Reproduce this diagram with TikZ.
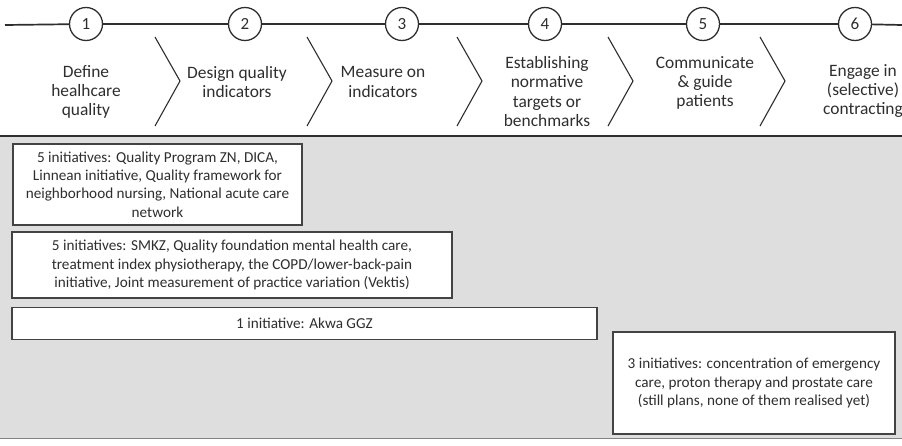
\documentclass[tikz,border=0pt]{standalone}
\usepackage{fontspec}
\setmainfont{Carlito}
\usetikzlibrary{positioning}
\definecolor{ink}{HTML}{2E2E2E}
\definecolor{panel}{HTML}{DEDEDE}
\begin{document}
\begin{tikzpicture}[x=1pt, y=-1pt, text=ink,
	num/.style={circle, draw=ink, line width=1.3pt, fill=white, minimum size=33pt, inner sep=0pt, font=\fontsize{17}{19}\selectfont},
	stage/.style={align=center, inner sep=0pt, font=\fontsize{17.4}{19.2}\selectfont},
	chev/.style={draw=ink, line width=1.1pt},
	initbox/.style={draw=ink!90, line width=1.2pt, fill=white, align=center, inner sep=0pt, font=\fontsize{15.2}{18.4}\selectfont}]
		\useasboundingbox (0,0) rectangle (902,445);
		% grey panel below the header
		\fill[panel] (0,137) rectangle (902,438);
		\draw[ink!60, line width=1pt] (0,438) -- (902,438);
		\draw[ink, line width=2.4pt] (0,136) -- (902,136);

		% numbered steps on the time line
		\coordinate (L) at (5,25);
		\coordinate (R) at (902,25);
		\node[num] (n1) at (86,24) {1};
		\node[num] (n2) at (245,24) {2};
		\node[num] (n3) at (402,24) {3};
		\node[num] (n4) at (545,24) {4};
		\node[num] (n5) at (703,24) {5};
		\node[num] (n6) at (855,24) {6};
		\draw[ink, line width=1.7pt] (L) -- (n1) -- (n2) -- (n3) -- (n4) -- (n5) -- (n6) -- (R);

		% chevrons between the stages
		\foreach \x in {155,307,457,608,760}
			\draw[chev] (\x,37) -- (\x+25,81) -- (\x,126);

		\node[stage] (s1) at (86,92) {Define\\healhcare\\quality};
		\node[stage] (s2) at (237,82) {Design quality\\indicators};
		\node[stage] (s3) at (383,82) {Measure on\\indicators};
		\node[stage] (s4) at (547,91.5) {Establishing\\normative\\targets or\\benchmarks};
		\node[stage] (s5) at (705,83) {Communicate\\\&~guide\\patients};
		\node[stage] (s6) at (863,91) {Engage in\\(selective)\\contracting};

		% initiatives per range of stages
		\node[initbox, minimum width=289pt, minimum height=81pt] (b1) at (157.5,184.5) {5 initiatives: Quality Program ZN, DICA,\\Linnean initiative, Quality framework for\\neighborhood nursing, National acute care\\network};
		\node[initbox, minimum width=440pt, minimum height=66pt] (b2) at (232,265) {5 initiatives: SMKZ, Quality foundation mental health care,\\treatment index physiotherapy, the COPD/lower-back-pain\\initiative, Joint measurement of practice variation (Vektis)};
		\node[initbox, minimum width=585pt, minimum height=32pt] (b3) at (304.5,323.5) {1 initiative: Akwa GGZ};
		\node[initbox, minimum width=282pt, minimum height=102pt] (b4) at (754,383) {3 initiatives: concentration of emergency\\care, proton therapy and prostate care\\(still plans, none of them realised yet)};
	\end{tikzpicture}
\end{document}
